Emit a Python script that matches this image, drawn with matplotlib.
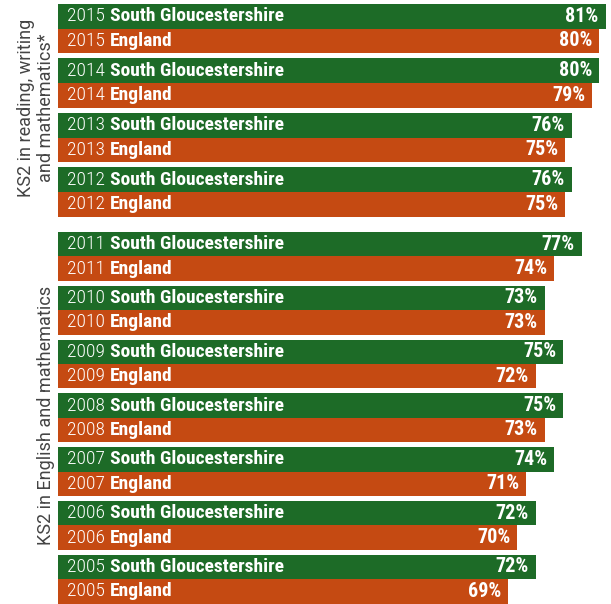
import matplotlib
matplotlib.use('Agg')
from matplotlib import pyplot as plt
from matplotlib import font_manager

# KS2 results, share of pupils reaching the expected level (%)
years_top = [2015, 2014, 2013, 2012]
sg_top = [81, 80, 76, 76]
eng_top = [80, 79, 75, 75]

years_bottom = [2011, 2010, 2009, 2008, 2007, 2006, 2005]
sg_bottom = [77, 73, 75, 75, 74, 72, 72]
eng_bottom = [74, 73, 72, 73, 71, 70, 69]

area_names = ['South Gloucestershire', 'England']
group_labels = ['KS2 in reading, writing\nand mathematics*', 'KS2 in English and mathematics']

GREEN = '#1d6b27'
ORANGE = '#c54a12'

# pick a narrow face for the text inside the bars
installed = {f.name for f in font_manager.fontManager.ttflist}
bar_font = 'DejaVu Sans'
for cand in ['Roboto Condensed', 'Liberation Sans Narrow', 'Open Sans Condensed', 'Roboto']:
    if cand in installed:
        bar_font = cand
        break
label_font = 'Roboto' if 'Roboto' in installed else 'DejaVu Sans'

W, H = 611, 604
fig = plt.figure(figsize=(W / 100, H / 100), dpi=100)


def draw_group(ax, years, sg, eng, xlim, pitch=2.21):
    ys_sg, ys_eng = [], []
    for i in range(len(years)):
        ys_sg.append(i * pitch + 0.5)
        ys_eng.append(i * pitch + 1.5)
    ax.barh(ys_sg, sg, height=1.0, color=GREEN)
    ax.barh(ys_eng, eng, height=1.0, color=ORANGE)
    ax.set_xlim(*xlim)
    ax.set_ylim((len(years) - 1) * pitch + 2, 0)
    ax.axis('off')

    for ys, vals, name in [(ys_sg, sg, area_names[0]), (ys_eng, eng, area_names[1])]:
        for yr, y, v in zip(years, ys, vals):
            t = ax.annotate(str(yr), xy=(0, y), xycoords=('axes fraction', 'data'),
                            xytext=(6.3, 0), textcoords='offset points',
                            ha='left', va='center', color='white',
                            fontsize=14, family=bar_font, weight='light')
            ax.annotate(name, xy=(1, 0), xycoords=t, xytext=(4, 0),
                        textcoords='offset points', ha='left', va='bottom',
                        color='white', fontsize=14, family=bar_font, weight='bold')
            ax.annotate(f'{v}%', xy=(v, y), xytext=(-5, 0), textcoords='offset points',
                        ha='right', va='center', color='white',
                        fontsize=14.5, family=bar_font, weight='bold')


left = 58 / W
ax_top = fig.add_axes([left, 1 - 216.7 / H, 1 - left, 212.7 / H])
draw_group(ax_top, years_top, sg_top, eng_top, (0, 81.8))

ax_bot = fig.add_axes([left, 1 - 603.5 / H, 1 - left, 371.5 / H])
draw_group(ax_bot, years_bottom, sg_bottom, eng_bottom, (20.15, 80.19), pitch=2.204)

# rotated group labels on the left
fig.text(36 / W, 1 - 108 / H, group_labels[0], rotation=90, ha='center', va='center',
         multialignment='center', fontsize=13, color='#444444', family=label_font,
         weight='normal', linespacing=1.15)
fig.text(46 / W, 1 - 415 / H, group_labels[1], rotation=90, ha='center', va='center',
         fontsize=13, color='#444444', family=label_font, weight='normal')

fig.savefig('out.png', dpi=100)
